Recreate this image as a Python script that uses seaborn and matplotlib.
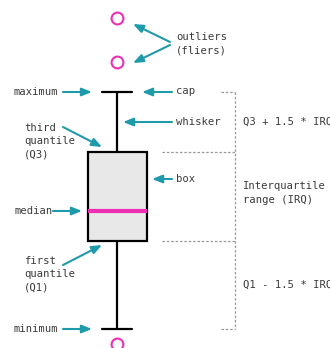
import matplotlib
matplotlib.use("Agg")
import matplotlib.pyplot as plt
import seaborn as sns
import pandas as pd

# values (vertical position units, measured upward from bottom edge)
values = [4, 19, 60, 107, 115, 125, 137, 150, 170, 196, 256, 286, 330]
group = ["data"] * len(values)

sns.set_theme(style="white")
plt.rcParams['font.family'] = ['DejaVu Sans Mono', 'DejaVu Sans']

W, H = 330, 348
fig = plt.figure(figsize=(W / 100, H / 100), dpi=100)
ax = fig.add_axes([0, 0, 1, 1])

df = pd.DataFrame({"g": group, "v": values})
MAG = "#ee2fb4"
sns.boxplot(data=df, x="g", y="v", ax=ax, width=0.59, whis=1.0,
            color="#e8e8e8", linecolor="black", linewidth=1.6,
            medianprops=dict(color=MAG, linewidth=3),
            flierprops=dict(marker="o", markersize=8.5, markerfacecolor="white",
                            markeredgecolor=MAG, markeredgewidth=1.5))
ax.set_xlim(-1.17, 2.13)
ax.set_ylim(0, H)
ax.axis("off")

TEAL = "#1f9aaa"
TXT = "#3a3a3a"
FS = 7.6


def P(x, y):
    return (x, H - y)


def arrow(x0, y0, x1, y1):
    ax.annotate("", xy=P(x1, y1), xycoords="figure pixels",
                xytext=P(x0, y0), textcoords="figure pixels",
                arrowprops=dict(arrowstyle="-|>,head_length=0.5,head_width=0.2",
                                color=TEAL, lw=1.5, shrinkA=0, shrinkB=0))


def label(x, y, s, ha="left"):
    fig.text(x / W, (H - y) / H, s, ha=ha, va="center", fontsize=FS,
             color=TXT, linespacing=1.4)


# outliers
label(176, 44, "outliers\n(fliers)")
arrow(170, 42, 133, 24)
arrow(170, 45, 133, 63)

# maximum / cap
label(58, 92, "maximum", ha="right")
arrow(63, 92, 92, 92)
label(176, 91, "cap")
arrow(172, 92, 142, 92)

# whisker
label(176, 122, "whisker")
arrow(172, 122, 123, 122)

# Q3
label(24, 141, "third\nquantile\n(Q3)")
arrow(63, 127, 102, 147)

# box
label(176, 179, "box")
arrow(172, 179, 152, 179)

# median
label(53, 211, "median", ha="right")
arrow(53, 211, 82, 211)

# Q1
label(24, 274, "first\nquantile\n(Q1)")
arrow(63, 265, 102, 245)

# minimum
label(58, 329, "minimum", ha="right")
arrow(63, 329, 92, 329)

# dashed bracket lines
dash = dict(color="#999999", lw=0.9, ls=(0, (2, 1.5)))
ln = lambda xs, ys: fig.add_artist(plt.Line2D([x / W for x in xs],
                                              [(H - y) / H for y in ys],
                                              transform=fig.transFigure, **dash))
ln([221, 235], [92, 92])
ln([162, 235], [152, 152])
ln([162, 235], [241, 241])
ln([221, 235], [329, 329])
ln([235, 235], [92, 329])

label(243, 122, "Q3 + 1.5 * IRQ")
label(243, 193, "Interquartile\nrange (IRQ)")
label(243, 285, "Q1 - 1.5 * IRQ")

fig.savefig("out.png", dpi=100)
